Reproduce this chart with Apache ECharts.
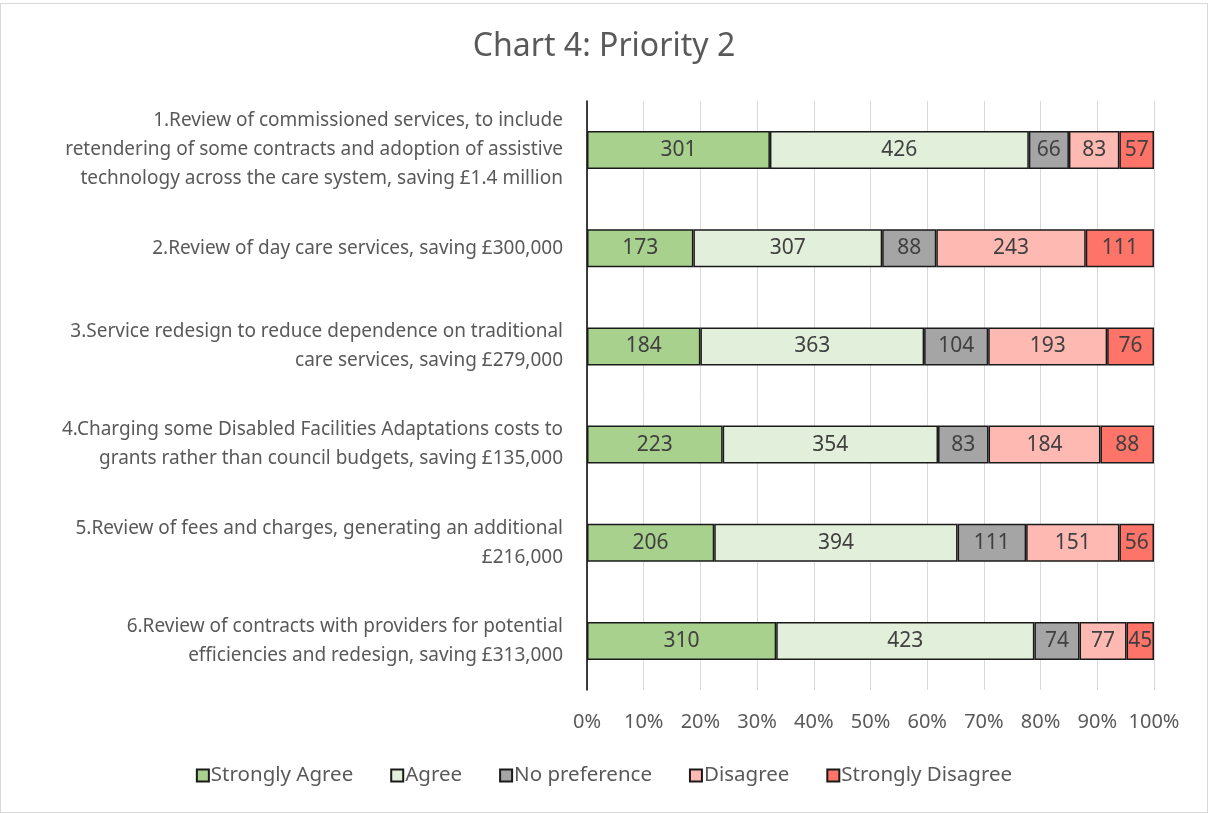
<!DOCTYPE html>
<html>
<head>
<meta charset="utf-8">
<script src="https://cdn.jsdelivr.net/npm/echarts@6/dist/echarts.min.js"></script>
<style>
  html, body { margin: 0; padding: 0; background: #fff; }
  #frame { position: absolute; left: 0; top: 3px; width: 1206px; height: 808px; border: 1px solid #d9d9d9; }
  #mapDiv { position: absolute; left: 0; top: 0; width: 1208px; height: 813px; }
</style>
</head>
<body>
<div id="frame"></div>
<div id="mapDiv"></div>
<script>
var categories = [
    '1.Review of commissioned services, to include\nretendering of some contracts and adoption of assistive\ntechnology across the care system, saving £1.4 million',
    '2.Review of day care services, saving £300,000',
    '3.Service redesign to reduce dependence on traditional\ncare services, saving £279,000',
    '4.Charging some Disabled Facilities Adaptations costs to\ngrants rather than council budgets, saving £135,000',
    '5.Review of fees and charges, generating an additional\n£216,000',
    '6.Review of contracts with providers for potential\nefficiencies and redesign, saving £313,000'
];
var seriesNames = ['Strongly Agree', 'Agree', 'No preference', 'Disagree', 'Strongly Disagree'];
var stronglyAgree = [301, 173, 184, 223, 206, 310];
var agree = [426, 307, 363, 354, 394, 423];
var noPreference = [66, 88, 104, 83, 111, 74];
var disagree = [83, 243, 193, 184, 151, 77];
var stronglyDisagree = [57, 111, 76, 88, 56, 45];
var colors = ['#a9d18e', '#e2efda', '#a5a5a5', '#ffb9b3', '#ff7468'];

var raw = [stronglyAgree, agree, noPreference, disagree, stronglyDisagree];
var totals = categories.map(function (c, i) {
    var s = 0;
    for (var k = 0; k < raw.length; k++) s += raw[k][i];
    return s;
});

var font = 'Noto Sans';
var dom = document.getElementById('mapDiv');
var myChart = echarts.init(dom);

var series = raw.map(function (vals, k) {
    return {
        name: seriesNames[k],
        type: 'bar',
        stack: 'total',
        barWidth: 38,
        itemStyle: { color: colors[k], borderColor: '#1a1a1a', borderWidth: 1.5 },
        label: {
            show: true,
            position: 'inside',
            color: '#404040',
            fontFamily: font,
            fontSize: 21,
            formatter: function (p) { return vals[p.dataIndex]; }
        },
        data: vals.map(function (v, i) { return v / totals[i] * 100; })
    };
});

var option = {
    animation: false,
    color: colors,
    title: {
        text: 'Chart 4: Priority 2',
        left: 'center',
        top: 26,
        textStyle: { fontFamily: font, fontSize: 32, fontWeight: 'normal', color: '#595959' }
    },
    legend: {
        data: seriesNames,
        bottom: 22,
        left: 'center',
        icon: 'rect',
        itemWidth: 12,
        itemHeight: 12,
        itemGap: 37,
        textStyle: { fontFamily: font, fontSize: 20.5, color: '#595959', padding: [0, 0, 0, -3] }
    },
    grid: { left: 587, right: 54, top: 101, bottom: 123 },
    xAxis: {
        type: 'value',
        min: 0,
        max: 100,
        interval: 10,
        axisLine: { show: false },
        axisTick: { show: false },
        splitLine: { lineStyle: { color: '#d9d9d9', width: 1 } },
        axisLabel: {
            margin: 22,
            fontFamily: font,
            fontSize: 20,
            color: '#595959',
            formatter: '{value}%'
        }
    },
    yAxis: {
        type: 'category',
        inverse: true,
        data: categories,
        axisLine: { lineStyle: { color: '#000', width: 1.5 } },
        axisTick: { show: false },
        axisLabel: {
            margin: 24,
            fontFamily: font,
            fontSize: 19,
            lineHeight: 29,
            color: '#595959',
            align: 'right'
        }
    },
    series: series
};
myChart.setOption(option);
</script>
</body>
</html>
